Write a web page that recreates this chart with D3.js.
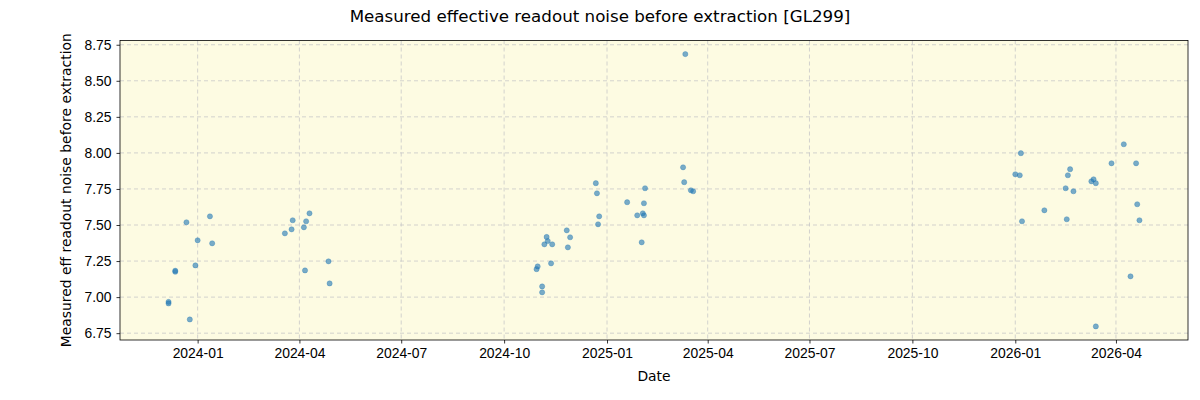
<!DOCTYPE html>
<html>
<head>
<meta charset="utf-8">
<script src="https://cdn.jsdelivr.net/npm/d3@7"></script>
<style>
  body { margin: 0; background: #fff; }
  svg { font-family: "DejaVu Sans", sans-serif; }
  .tick text { font-size: 13.9px; fill: #000; }
  .grid line { stroke: #c8c8c8; stroke-dasharray: 4,3; stroke-width: 0.8; }
</style>
</head>
<body>
<svg width="1200" height="400"></svg>
<script>
var dates = [
  "2023-12-06", "2023-12-06", "2023-12-12", "2023-12-12", "2023-12-22", "2023-12-25",
  "2023-12-30", "2024-01-01", "2024-01-12", "2024-01-14",
  "2024-03-19", "2024-03-25", "2024-03-26", "2024-04-05", "2024-04-06", "2024-04-07",
  "2024-04-10", "2024-04-27", "2024-04-28",
  "2024-10-30", "2024-10-31", "2024-11-04", "2024-11-04", "2024-11-06", "2024-11-08",
  "2024-11-09", "2024-11-12", "2024-11-13", "2024-11-26", "2024-11-27", "2024-11-29",
  "2024-12-22", "2024-12-23", "2024-12-24", "2024-12-25",
  "2025-01-19", "2025-01-28", "2025-02-01", "2025-02-02", "2025-02-03", "2025-02-03",
  "2025-02-04", "2025-03-10", "2025-03-11", "2025-03-12", "2025-03-17", "2025-03-19",
  "2026-01-01", "2026-01-05", "2026-01-06", "2026-01-07", "2026-01-27", "2026-02-15",
  "2026-02-16", "2026-02-17", "2026-02-19", "2026-02-22", "2026-03-10", "2026-03-12",
  "2026-03-14", "2026-03-14", "2026-03-28", "2026-04-08", "2026-04-14", "2026-04-19",
  "2026-04-20", "2026-04-22"
];
var values = [
  6.967, 6.956, 7.183, 7.176, 7.519, 6.845,
  7.22, 7.394, 7.56, 7.373,
  7.442, 7.47, 7.533, 7.484, 7.185, 7.526,
  7.581, 7.248, 7.095,
  7.194, 7.213, 7.074, 7.033, 7.366, 7.417,
  7.389, 7.234, 7.366, 7.463, 7.345, 7.415,
  7.79, 7.72, 7.505, 7.56,
  7.658, 7.567, 7.38, 7.581, 7.651, 7.567,
  7.755, 7.90, 7.797, 8.685, 7.741, 7.734,
  7.852, 7.845, 7.998, 7.526, 7.602, 7.755,
  7.54, 7.845, 7.887, 7.734, 7.803, 7.817,
  7.79, 6.797, 7.928, 8.06, 7.144, 7.928,
  7.644, 7.533
];
var xTicks = ["2024-01", "2024-04", "2024-07", "2024-10", "2025-01", "2025-04", "2025-07", "2025-10", "2026-01", "2026-04"];
var yTicks = [6.75, 7.00, 7.25, 7.50, 7.75, 8.00, 8.25, 8.50, 8.75];

var parse = d3.timeParse("%Y-%m-%d");
var parseMonth = d3.timeParse("%Y-%m");
var data = dates.map(function(d, i) {
  return { date: parse(d), value: values[i] };
});

var margin = { top: 40.5, right: 12, bottom: 60, left: 120 },
  width = 1200 - margin.left - margin.right,
  height = 400 - margin.top - margin.bottom;

var svg = d3.select("svg");

// matplotlib-style 5% padding around the data
var xExt = d3.extent(data, function(d) { return +d.date; }),
  yExt = d3.extent(data, function(d) { return d.value; });
var xPad = (xExt[1] - xExt[0]) * 0.05,
  yPad = (yExt[1] - yExt[0]) * 0.05;

var x = d3.scaleTime()
  .domain([new Date(xExt[0] - xPad), new Date(xExt[1] + xPad)])
  .range([0, width]);
var y = d3.scaleLinear()
  .domain([yExt[0] - yPad, yExt[1] + yPad])
  .range([height, 0]);

var g = svg.append("g")
  .attr("transform", "translate(" + margin.left + "," + margin.top + ")");

g.append("rect")
  .attr("width", width)
  .attr("height", height)
  .attr("fill", "#fdfbe2");

var xTickDates = xTicks.map(parseMonth);

// grid
g.append("g")
  .attr("class", "grid")
  .selectAll("line.v")
  .data(xTickDates)
  .enter()
  .append("line")
  .attr("x1", function(d) { return x(d); })
  .attr("x2", function(d) { return x(d); })
  .attr("y1", 0)
  .attr("y2", height);

g.append("g")
  .attr("class", "grid")
  .selectAll("line.h")
  .data(yTicks)
  .enter()
  .append("line")
  .attr("x1", 0)
  .attr("x2", width)
  .attr("y1", function(d) { return y(d); })
  .attr("y2", function(d) { return y(d); });

// points
g.append("g")
  .selectAll("circle")
  .data(data)
  .enter()
  .append("circle")
  .attr("cx", function(d) { return x(d.date); })
  .attr("cy", function(d) { return y(d.value); })
  .attr("r", 2.6)
  .attr("fill", "#1f77b4")
  .attr("fill-opacity", 0.6)
  .attr("stroke", "#1f77b4")
  .attr("stroke-opacity", 0.6)
  .attr("stroke-width", 0.5);

// axes
var xAxis = d3.axisBottom(x)
  .tickValues(xTickDates)
  .tickSize(3.5)
  .tickPadding(5)
  .tickFormat(d3.timeFormat("%Y-%m"));

var yAxis = d3.axisLeft(y)
  .tickValues(yTicks)
  .tickSize(3.5)
  .tickPadding(5)
  .tickFormat(d3.format(".2f"));

var gx = g.append("g")
  .attr("transform", "translate(0," + height + ")")
  .call(xAxis);
var gy = g.append("g").call(yAxis);

[gx, gy].forEach(function(a) {
  a.select(".domain").remove();
  a.selectAll(".tick line").attr("stroke", "#000").attr("stroke-width", 0.8);
});

g.append("rect")
  .attr("width", width)
  .attr("height", height)
  .attr("fill", "none")
  .attr("stroke", "#000")
  .attr("stroke-width", 0.8);

// labels
svg.append("text")
  .attr("x", 600)
  .attr("y", 22)
  .attr("text-anchor", "middle")
  .style("font-size", "16.7px")
  .text("Measured effective readout noise before extraction [GL299]");

svg.append("text")
  .attr("x", margin.left + width / 2)
  .attr("y", 381)
  .attr("text-anchor", "middle")
  .style("font-size", "13.9px")
  .text("Date");

svg.append("text")
  .attr("transform", "translate(71," + (margin.top + height / 2) + ") rotate(-90)")
  .attr("text-anchor", "middle")
  .style("font-size", "13.9px")
  .text("Measured eff readout noise before extraction");
</script>
</body>
</html>
